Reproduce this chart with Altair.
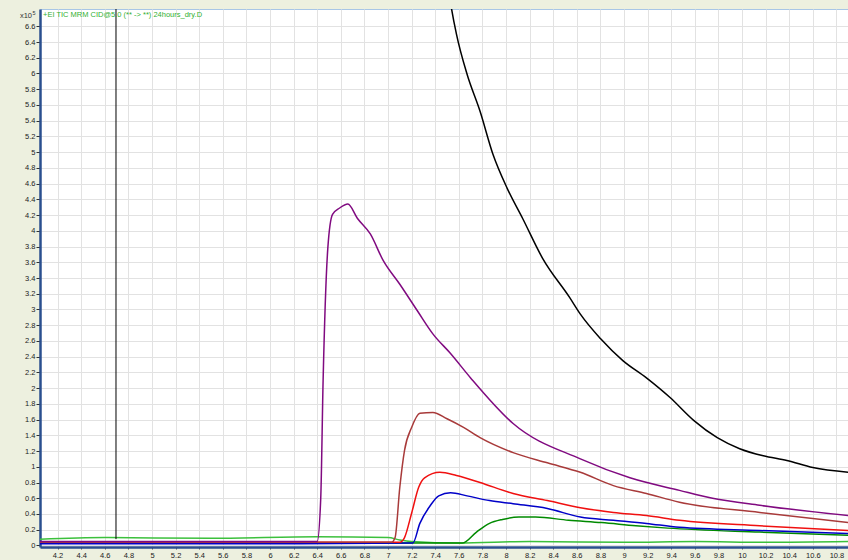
import altair as alt
import pandas as pd

# ---- data (x = acquisition time, min; y = counts x10^5) ----
black_t = [7.50, 7.54, 7.58, 7.67, 7.78, 7.89, 8.01, 8.14, 8.31, 8.54, 8.63, 8.80, 8.99,
           9.19, 9.39, 9.59, 9.79, 9.98, 10.18, 10.38, 10.60, 10.90]
black_y = [7.20, 6.81, 6.50, 5.99, 5.52, 4.97, 4.54, 4.16, 3.65, 3.15, 2.94, 2.63, 2.35,
           2.13, 1.88, 1.59, 1.37, 1.23, 1.14, 1.08, 0.99, 0.93]

purple_t = [4.05, 5.0, 6.0, 6.40, 6.43, 6.45, 6.49, 6.53, 6.59, 6.66, 6.74, 6.85, 6.96, 7.10,
            7.25, 7.38, 7.53, 7.70, 8.06, 8.63, 9.05, 9.47, 9.75, 10.15, 10.90]
purple_y = [0.05, 0.05, 0.05, 0.05, 0.60, 2.09, 3.78, 4.21, 4.29, 4.34, 4.16, 3.96, 3.62, 3.32,
            2.98, 2.69, 2.44, 2.13, 1.55, 1.10, 0.86, 0.70, 0.60, 0.51, 0.38]

brown_t = [4.05, 5.0, 6.0, 7.03, 7.06, 7.10, 7.14, 7.20, 7.27, 7.38, 7.50, 7.64, 7.78, 8.06,
           8.35, 8.63, 8.91, 9.19, 9.47, 10.15, 10.90]
brown_y = [0.04, 0.04, 0.04, 0.04, 0.10, 0.74, 1.21, 1.50, 1.68, 1.69, 1.61, 1.50, 1.37, 1.18,
           1.05, 0.93, 0.76, 0.66, 0.55, 0.42, 0.29]

red_t = [4.05, 5.0, 6.0, 7.10, 7.14, 7.20, 7.26, 7.31, 7.44, 7.58, 7.78, 8.06, 8.35, 8.63,
         8.91, 9.19, 9.47, 10.15, 10.90]
red_y = [0.04, 0.04, 0.04, 0.04, 0.10, 0.41, 0.74, 0.86, 0.93, 0.89, 0.80, 0.66, 0.57, 0.48,
         0.42, 0.38, 0.32, 0.25, 0.19]

blue_t = [4.05, 5.0, 6.0, 7.21, 7.27, 7.36, 7.43, 7.53, 7.67, 7.86, 8.06, 8.35, 8.63, 8.91,
          9.19, 9.47, 10.15, 10.90]
blue_y = [0.02, 0.02, 0.02, 0.03, 0.28, 0.51, 0.63, 0.67, 0.63, 0.57, 0.53, 0.47, 0.36, 0.32,
          0.28, 0.23, 0.19, 0.15]

dgreen_t = [4.05, 5.0, 6.0, 7.0, 7.63, 7.75, 7.86, 7.97, 8.11, 8.25, 8.53, 8.81, 9.10, 9.37,
            10.15, 10.90]
dgreen_y = [0.03, 0.03, 0.03, 0.03, 0.03, 0.17, 0.28, 0.33, 0.36, 0.36, 0.32, 0.29, 0.25, 0.22,
            0.17, 0.13]

lgreen_t = [4.05, 4.6, 5.5, 6.4, 7.0, 7.1, 7.2, 7.6, 8.2, 9.0, 9.6, 10.2, 10.90]
lgreen_y = [0.08, 0.10, 0.09, 0.11, 0.10, 0.07, 0.05, 0.03, 0.05, 0.04, 0.05, 0.04, 0.05]

series_names = ["light green", "dark green", "blue", "red", "brown", "purple", "black"]
series_colors = ["#3cc03c", "#008a00", "#0000c8", "#f01010", "#a83a3a", "#800a80", "#000000"]
series_data = [(lgreen_t, lgreen_y), (dgreen_t, dgreen_y), (blue_t, blue_y), (red_t, red_y),
               (brown_t, brown_y), (purple_t, purple_y), (black_t, black_y)]

cursor_x = [4.695]
x_ticks = [round(4.2 + 0.2 * i, 1) for i in range(34)]
y_ticks = [round(0.2 * i, 1) for i in range(34)]
title_text = "+EI TIC MRM CID@5.0 (** -> **) 24hours_dry.D"

# ---- build table ----
rows = []
for order, (name, (ts, ys)) in enumerate(zip(series_names, series_data)):
    for t, v in zip(ts, ys):
        rows.append({"series": name, "order": order, "t": t, "v": v})
df = pd.DataFrame(rows)

X_DOM = [4.051, 10.898]
Y_DOM = [-0.02, 6.82]

xs = alt.Scale(domain=X_DOM, nice=False, zero=False)
ys = alt.Scale(domain=Y_DOM, nice=False, zero=False)

common_axis = dict(labelExpr="format(datum.value, '.1~f')", grid=True, gridColor="#e2e2e2",
                   domainColor="#2a4f8f", domainWidth=2.5, labelFontSize=7.5,
                   labelColor="#222", labelFont="Liberation Sans", labelOverlap=False,
                   labelFlush=False, labelBound=False, tickCount=100)

lines = alt.Chart(df).mark_line(strokeWidth=1.5, clip=True, interpolate="monotone").encode(
    x=alt.X("t:Q", scale=xs, title=None,
            axis=alt.Axis(values=x_ticks, tickSize=2, tickColor="#555", labelPadding=2,
                          **common_axis)),
    y=alt.Y("v:Q", scale=ys, title=None,
            axis=alt.Axis(values=y_ticks, tickSize=4, tickColor="#333", labelPadding=1,
                          **common_axis)),
    color=alt.Color("series:N", scale=alt.Scale(domain=series_names, range=series_colors),
                    legend=None),
    detail="series:N",
    order="t:Q",
)

cursor = alt.Chart(pd.DataFrame({"x": cursor_x, "y": [0.08], "y2": [Y_DOM[1]]})).mark_rule(
    color="#000000", strokeWidth=1).encode(
    x=alt.X("x:Q", scale=xs), y=alt.Y("y:Q", scale=ys), y2="y2:Q")

title = alt.Chart(pd.DataFrame({"txt": [title_text]})).mark_text(
    align="left", baseline="middle", fontSize=7.5, color="#30b030", font="Liberation Sans"
).encode(text="txt:N", x=alt.value(3), y=alt.value(6))

x10 = alt.Chart(pd.DataFrame({"txt": ["x10"]})).mark_text(
    align="right", baseline="middle", fontSize=7.5, color="#333", font="Liberation Sans"
).encode(text="txt:N", x=alt.value(-8), y=alt.value(7))

sup = alt.Chart(pd.DataFrame({"txt": ["5"]})).mark_text(
    align="left", baseline="middle", fontSize=5.5, color="#333", font="Liberation Sans"
).encode(text="txt:N", x=alt.value(-7.5), y=alt.value(4))

chart = alt.layer(lines, cursor, title, x10, sup).properties(
    width=808, height=538,
    padding={"left": 40, "top": 9, "right": 0, "bottom": 13},
    autosize=alt.AutoSizeParams(type="none"),
    background="#edf0df",
).configure_view(
    fill="#ffffff", stroke="#a8c6e6", strokeWidth=1
)

chart.save("out.html", embed_options={"renderer": "svg", "actions": False})
